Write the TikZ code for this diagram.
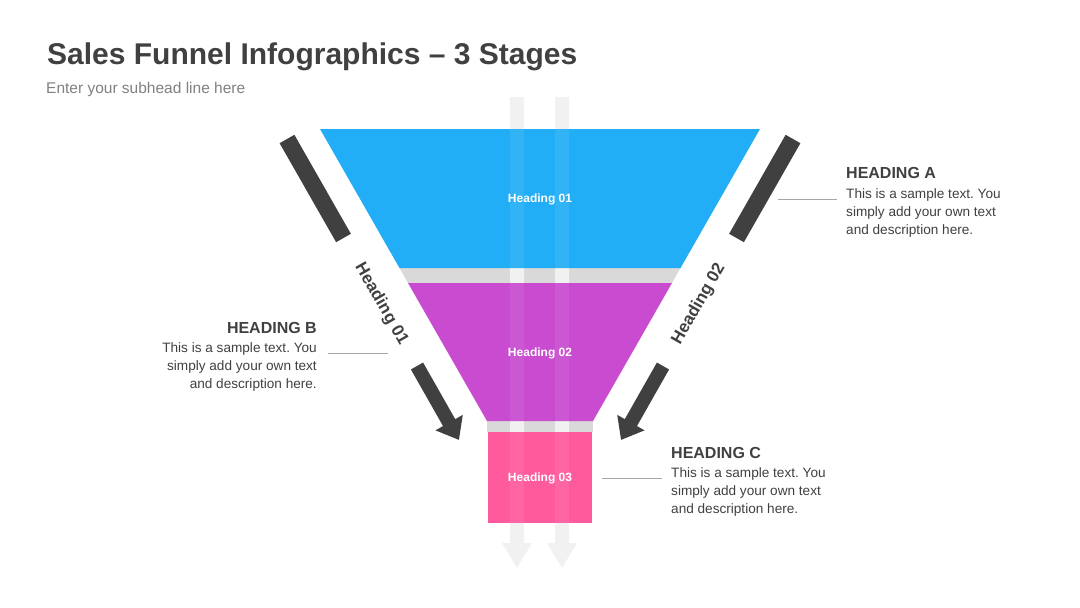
\documentclass[tikz,border=0pt]{standalone}
\usepackage{fontspec}
\setmainfont{Liberation Sans}
\usetikzlibrary{arrows.meta}
\frenchspacing
\definecolor{fblue}{HTML}{22AEF6}
\definecolor{fpurple}{HTML}{C84BD0}
\definecolor{fpink}{HTML}{FE5A9C}
\definecolor{fband}{HTML}{D9D9D9}
\definecolor{fstrip}{HTML}{F1F1F1}
\definecolor{fdark}{HTML}{404040}
\definecolor{fsub}{HTML}{808080}
\definecolor{fline}{HTML}{A6A6A6}
\begin{document}
\begin{tikzpicture}[x=1pt,y=-1pt,
  stripshape/.style={fill=fstrip,draw=none},
  stripglow/.style={fill=white,fill opacity=0.07,draw=none},
  bar/.style={draw=fdark,line width=17pt},
  darrow/.style={draw=fdark,line width=14pt,-{Triangle[width=30pt,length=20pt]}},
  sidelabel/.style={text=fdark,font=\bfseries\fontsize{17}{20}\selectfont,inner sep=0},
  funlabel/.style={text=white,font=\bfseries\fontsize{12}{14}\selectfont,inner sep=0},
  headtxt/.style={text=fdark,font=\bfseries\fontsize{16}{19}\selectfont,inner sep=0},
  bodytxt/.style={text=fdark,font=\fontsize{13.6}{18}\selectfont\frenchspacing,inner sep=0},
  conn/.style={draw=fline,line width=1pt}]
\useasboundingbox (0,0) rectangle (1080,608);

% title
\node[anchor=base west,inner sep=0,text=fdark,font=\bfseries\fontsize{30}{36}\selectfont] (title) at (47,64) {Sales Funnel Infographics – 3 Stages};
\node[anchor=base west,inner sep=0,text=fsub,font=\fontsize{15.5}{18}\selectfont] (subtitle) at (46,93) {Enter your subhead line here};

% gray bands
\fill[fband] (399.5,268) -- (680.5,268) -- (672,283) -- (408,283) -- cycle;
\fill[fband] (487,421) rectangle (593,432);

% light strips with arrow heads
\foreach \c in {517,562}{
  \path[stripshape] ({\c-7},97) -- ({\c+7},97) -- ({\c+7},543) -- ({\c+15},543) -- (\c,568) -- ({\c-15},543) -- ({\c-7},543) -- cycle;
}

% funnel stages
\path[fill=fblue] (320,129) -- (760,129) -- (680.5,268) -- (399.5,268) -- cycle;
\path[fill=fpurple] (408,283) -- (672,283) -- (593,421) -- (487,421) -- cycle;
\path[fill=fpink] (488,432) rectangle (592,523);

% strips glow over funnel
\foreach \c in {517,562}{
  \path[stripglow] ({\c-7},129) rectangle ({\c+7},523);
}

\node[funlabel] (s1) at (540,199) {Heading 01};
\node[funlabel] (s2) at (540,353) {Heading 02};
\node[funlabel] (s3) at (540,478) {Heading 03};

% left side bar, label and arrow
\coordinate (lb1) at (287,139);
\coordinate (lb2) at (343.5,238);
\coordinate (la1) at (417,366);
\coordinate (la2) at (459,440);
\draw[bar] (lb1) -- (lb2);
\node[sidelabel,rotate=-60.2] (h01) at (381.2,304) {Heading 01};
\draw[darrow] (la1) -- (la2);

% right side bar, label and arrow
\coordinate (rb1) at (793,139);
\coordinate (rb2) at (736.5,238);
\coordinate (ra1) at (663,366);
\coordinate (ra2) at (621,440);
\draw[bar] (rb1) -- (rb2);
\node[sidelabel,rotate=60.2] (h02) at (698.8,304) {Heading 02};
\draw[darrow] (ra1) -- (ra2);

% text block A
\node[headtxt,anchor=base west] (ha) at (846,178) {HEADING A};
\node[bodytxt,anchor=north west,align=left] (ta) at (846,188) {This is a sample text. You\\simply add your own text\\and description here.};
\coordinate (ca1) at (778,199);
\coordinate (ca2) at (837,199);
\draw[conn] (ca1) -- (ca2);

% text block B
\node[headtxt,anchor=base east] (hb) at (317,333) {HEADING B};
\node[bodytxt,anchor=north east,align=right] (tb) at (317,342) {This is a sample text. You\\simply add your own text\\and description here.};
\coordinate (cb1) at (328,353);
\coordinate (cb2) at (388,353);
\draw[conn] (cb1) -- (cb2);

% text block C
\node[headtxt,anchor=base west] (hc) at (671,458) {HEADING C};
\node[bodytxt,anchor=north west,align=left] (tc) at (671,467) {This is a sample text. You\\simply add your own text\\and description here.};
\coordinate (cc1) at (602,478);
\coordinate (cc2) at (662,478);
\draw[conn] (cc1) -- (cc2);
\end{tikzpicture}
\end{document}
